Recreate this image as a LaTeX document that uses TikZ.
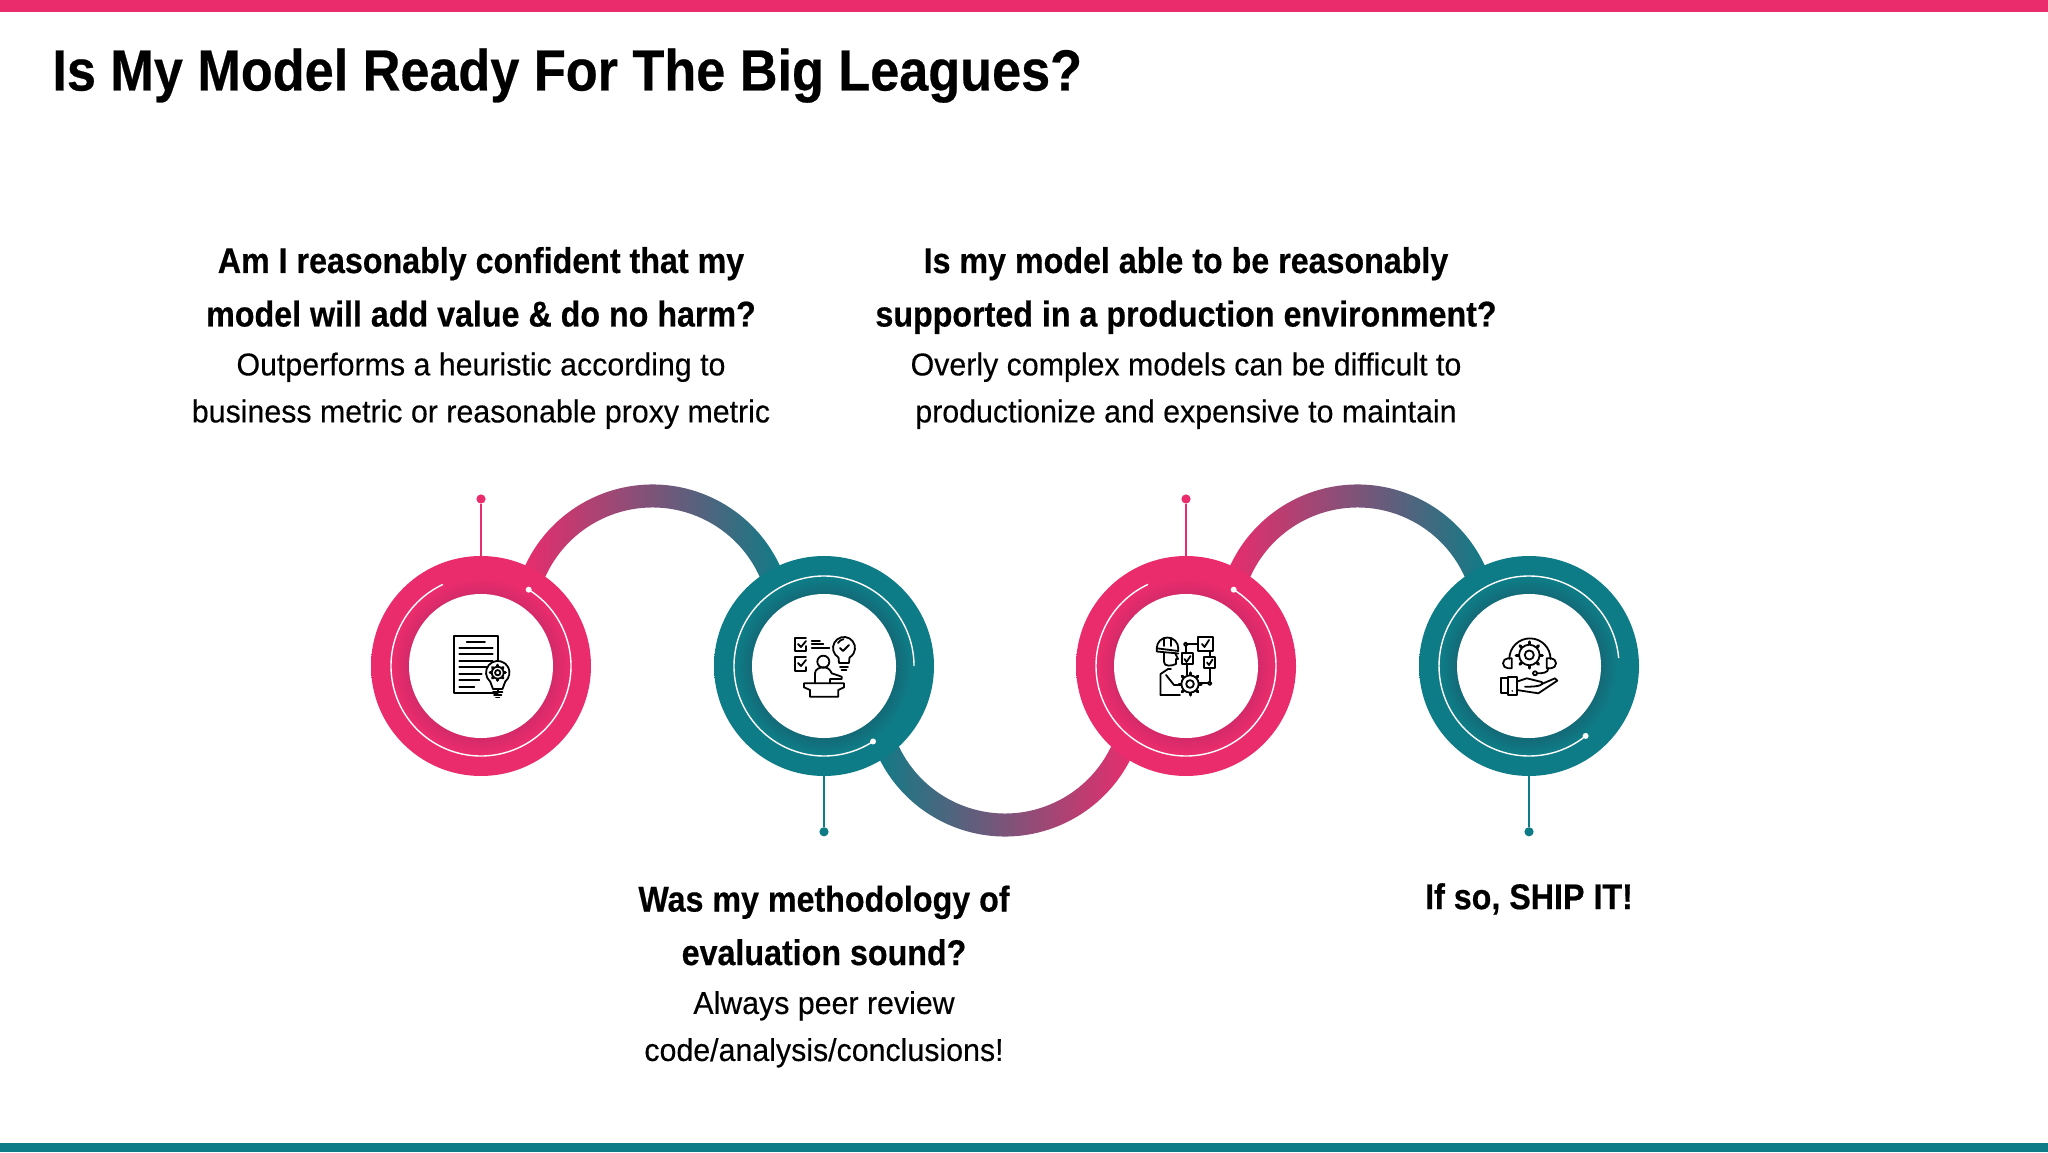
\documentclass[tikz,border=0pt]{standalone}
\usepackage{fontspec}
\setmainfont{Liberation Sans}[
  UprightFeatures={FakeStretch=0.96,FakeBold=0.3},
  BoldFeatures={FakeStretch=0.9,FakeBold=0.45}]
\usetikzlibrary{positioning, calc, backgrounds}
\definecolor{rose}{HTML}{EA2C6C}
\definecolor{rosedark}{HTML}{D42A69}
\definecolor{petrol}{HTML}{0E7C86}
\definecolor{petroldark}{HTML}{136A77}
\pgfdeclareradialshading{roseband}{\pgfpointorigin}{color(0bp)=(rosedark); color(16.4bp)=(rosedark); color(20bp)=(rose); color(50bp)=(rose)}
\pgfdeclareradialshading{petrolband}{\pgfpointorigin}{color(0bp)=(petroldark); color(16.4bp)=(petroldark); color(20bp)=(petrol); color(50bp)=(petrol)}
\newcommand{\titlefont}{\bfseries\fontsize{29}{32}\selectfont}
\newcommand{\headfont}{\bfseries\fontsize{17.9}{26.75}\selectfont}
\newcommand{\bodyfont}{\fontsize{15.8}{23.5}\selectfont}
\tikzset{
  ring/.style={
    circle,
    inner sep=0pt,
    outer sep=0pt,
    minimum size=110pt
  },
  rosering/.style={ring, shading=roseband},
  petrolring/.style={ring, shading=petrolband},
  hole/.style={
    circle,
    inner sep=0pt,
    outer sep=0pt,
    minimum size=72pt,
    fill=white
  },
  tip/.style={
    circle,
    inner sep=0pt,
    outer sep=0pt,
    minimum size=4.6pt
  },
  heading/.style={inner sep=0pt, outer sep=0pt, align=center, text depth=5pt, font=\headfont},
  bodytext/.style={inner sep=0pt, outer sep=0pt, align=center, text depth=5pt, font=\bodyfont},
  stem/.style={line width=1pt},
  glow/.style={white, line width=0.7pt},
  glint/.style={circle, fill=white, inner sep=0pt, minimum size=3pt},
  icon/.style={black, line width=0.9pt, line join=round, line cap=round},
  pics/cog/.style={
    code={
      \foreach \a in {0,45,...,315} \draw[icon, line width=1.5pt] (\a:5.2) -- (\a:6.9);
      \draw[icon, fill=white] (0,0) circle (5.4);
      \draw[icon] (0,0) circle (2.4);
    }
  }
}
\begin{document}
\begin{tikzpicture}[x=0.5pt, y=0.5pt]
  \useasboundingbox (0,0) rectangle (2048,1152);
  \fill[rose] (0,1140) rectangle (2048,1152);
  \fill[petrol] (0,0) rectangle (2048,9);
  \node (title) [anchor=base west, inner sep=0pt, font=\titlefont] at (52,1061.5) {Is My Model Ready For The Big Leagues?};

  % the four rings
  \node (ringA) [rosering] at (481,486) {};
  \node (ringB) [petrolring, right=61.5pt of ringA] {};
  \node (ringC) [rosering, right=71pt of ringB] {};
  \node (ringD) [petrolring, right=61.5pt of ringC] {};
  \node (holeA) [hole] at (ringA) {};
  \node (holeB) [hole] at (ringB) {};
  \node (holeC) [hole] at (ringC) {};
  \node (holeD) [hole] at (ringD) {};

  % links between rings
  \begin{pgfonlayer}{background}
    \shade[left color=rose, right color=petrol] ($(ringA)!0.5!(ringB)+(0,41)$) ++(160:140.5) arc[start angle=160, end angle=20, radius=140.5] -- ++(20:-23) arc[start angle=20, end angle=160, radius=117.5] -- cycle;
    \shade[left color=petrol, right color=rose] ($(ringB)!0.5!(ringC)+(0,-30)$) ++(200:140.5) arc[start angle=200, end angle=340, radius=140.5] -- ++(340:-23) arc[start angle=340, end angle=200, radius=117.5] -- cycle;
    \shade[left color=rose, right color=petrol] ($(ringC)!0.5!(ringD)+(0,41)$) ++(160:140.5) arc[start angle=160, end angle=20, radius=140.5] -- ++(20:-23) arc[start angle=20, end angle=160, radius=117.5] -- cycle;
  \end{pgfonlayer}

  % thin white arcs
  \draw[glow] (ringA) ++(58:90) arc[start angle=58, end angle=-245, radius=90];
  \draw[glow] (ringB) ++(-57:90) arc[start angle=-57, end angle=-360, radius=90];
  \draw[glow] (ringC) ++(58:90) arc[start angle=58, end angle=-245, radius=90];
  \draw[glow] (ringD) ++(-51:90) arc[start angle=-51, end angle=-355, radius=90];
  \node (glintA) [glint] at ($(ringA)+(58:90)$) {};
  \node (glintB) [glint] at ($(ringB)+(-57:90)$) {};
  \node (glintC) [glint] at ($(ringC)+(58:90)$) {};
  \node (glintD) [glint] at ($(ringD)+(-51:90)$) {};

  % stems
  \node (tipA) [tip, fill=rose, above=26.2pt of ringA] {};
  \node (tipB) [tip, fill=petrol, below=25.6pt of ringB] {};
  \node (tipC) [tip, fill=rose, above=26.2pt of ringC] {};
  \node (tipD) [tip, fill=petrol, below=25.6pt of ringD] {};
  \draw[stem, rose] (ringA.north) -- (tipA);
  \draw[stem, petrol] (ringB.south) -- (tipB);
  \draw[stem, rose] (ringC.north) -- (tipC);
  \draw[stem, petrol] (ringD.south) -- (tipD);

  % texts
  \node (textA) [bodytext, above=31pt of tipA] {Outperforms a heuristic according to\\business metric or reasonable proxy metric};
  \node (headA) [heading, above=8pt of textA] {Am I reasonably confident that my\\model will add value \& do no harm?};
  \node (textC) [bodytext, above=31pt of tipC] {Overly complex models can be difficult to\\productionize and expensive to maintain};
  \node (headC) [heading, above=8pt of textC] {Is my model able to be reasonably\\supported in a production environment?};
  \node (headB) [heading, below=24.6pt of tipB] {Was my methodology of\\evaluation sound?};
  \node (textB) [bodytext, below=8pt of headB] {Always peer review\\code/analysis/conclusions!};
  \node (headD) [heading, below=23.4pt of tipD] {If so, SHIP IT!};

  % icon: paper and bulb
  \begin{scope}[shift={(ringA)}]
    \draw[icon] (-27,30.3) rectangle (17,-26.7);
    \draw[icon] (-14.3,24.3) -- (4,24.3);
    \foreach \y/\e in {18.3/11.7, 11.7/11.7, 5/11.7, -1.3/9, -7.7/0.7, -14.3/-1.7, -21/-6.7}
      \draw[icon] (-21.7,\y) -- (\e,\y);
    \draw[icon, fill=white] (9.2,-15.6) arc[start angle=230, end angle=-50, radius=11.7] -- (21.5,-23) -- (12,-23) -- cycle;
    \draw[icon] (12,-26) -- (21.5,-26);
    \draw[icon] (13,-29) -- (20.5,-29);
    \draw[icon] (15,-31.5) -- (18.5,-31.5);
    \pic[scale=1.1] at (16.7,-6.7) {cog};
  \end{scope}

  % icon: speaker and checklist
  \begin{scope}[shift={(ringB)}]
    \draw[icon] (-18,27.7) -- (-29,27.7) -- (-29,15.3) -- (-18,15.3) -- (-18,20);
    \draw[icon] (-18,8.7) -- (-29,8.7) -- (-29,-5) -- (-18,-5) -- (-18,-1);
    \draw[icon] (-26,22) -- (-23,19) -- (-18,25);
    \draw[icon] (-26,3) -- (-23,0) -- (-18,6);
    \draw[icon] (-12.3,25.3) -- (-4,25.3);
    \draw[icon] (-12.3,21.7) -- (-0.7,21.7);
    \draw[icon] (-12.3,17.7) -- (5.3,17.7);
    \draw[icon] (14.5,8.5) arc[start angle=240, end angle=-60, radius=11] -- (25,3) -- (15,3) -- cycle;
    \draw[icon] (16,-1) -- (24,-1) (17.5,-4) -- (22.5,-4);
    \draw[icon] (16,18) -- (19,15) -- (25,21);
    \draw[icon] (14,23) arc[start angle=150, end angle=100, radius=8];
    \draw[icon] (-0.7,4.3) circle (6);
    \draw[icon] (-9,-17.3) -- (-9,-7.3) .. controls (-9,-3) and (-4,-1.3) .. (-0.7,-1.3) .. controls (3,-1.3) and (6,-3) .. (7.7,-7.3) -- (17.7,-10.7) -- (17.7,-13) -- (6,-13) -- (6,-17.3);
    \draw[icon] (-20,-17.3) -- (20,-17.3) -- (20,-21.3) -- (14.3,-24) -- (14.3,-30.7) -- (-14,-30.7) -- (-14,-24) -- (-20,-21.3) -- cycle;
  \end{scope}

  % icon: engineer and flow
  \begin{scope}[shift={(ringC)}]
    \draw[icon] (-29.3,17.7) arc[start angle=180, end angle=0, radius=10.8];
    \draw[icon] (-29.3,17.7) -- (-7.7,15) -- (-7.7,17.7) (-29.3,17.7) -- (-29.3,14.5) -- (-7.7,12.5);
    \draw[icon] (-22,28) -- (-22,20) (-15,28) -- (-15,20);
    \draw[icon] (-22,13) -- (-22,4) .. controls (-22,-1) and (-14,0) .. (-10,2) -- (-10,7) -- (-8,7) -- (-11,13);
    \draw[icon] (-25.5,-29) -- (-25.5,-8) -- (-18,-3) -- (-15,-3);
    \draw[icon] (-25.5,-29) -- (-6,-29);
    \draw[icon] (-20,-9) -- (-12,-19) -- (-4,-19);
    \pic[scale=1.6] at (4,-18) {cog};
    \draw[icon] (12.3,28.7) rectangle (27.3,15.3);
    \draw[icon] (-4.3,12.7) rectangle (6.7,1.7);
    \draw[icon] (18,9.3) rectangle (29,-2.3);
    \draw[icon] (16,22) -- (18.5,19) -- (23,26);
    \draw[icon] (-1.5,7) -- (0.5,4) -- (4.5,10);
    \draw[icon] (21,3.5) -- (23,1) -- (26.5,6.5);
    \draw[icon] (-0.3,21.7) circle (1.8);
    \draw[icon] (1.5,21.7) -- (12.3,21.7);
    \draw[icon] (-0.3,19.9) -- (-0.3,12.7);
    \draw[icon] (23.7,15.3) -- (23.7,9.3);
    \draw[icon] (23.7,-2.3) -- (23.7,-15.5);
    \draw[icon] (23.7,-17.3) circle (1.8);
    \draw[icon] (21.9,-17.3) -- (13,-17.3);
    \draw[icon] (1,1.7) -- (1,-9);
  \end{scope}

  % icon: service hand
  \begin{scope}[shift={(ringD)}]
    \draw[icon] (-19.7,7) arc[start angle=180, end angle=0, radius=20.6];
    \pic[scale=1.9] at (0.3,11) {cog};
    \draw[icon] (-17.3,7.7) -- (-17.3,-2.3) -- (-21,-2.3) arc[start angle=270, end angle=90, radius=5] -- cycle;
    \draw[icon] (17.7,7.7) -- (17.7,-2.3) -- (22,-2.3) arc[start angle=-90, end angle=90, radius=5] -- cycle;
    \draw[icon] (19.3,-2.3) .. controls (19,-7) and (14,-7.3) .. (8,-7.3);
    \draw[icon] (6,-7.3) circle (2);
    \draw[icon] (-28.3,-12.3) rectangle (-20.7,-27.3);
    \draw[icon] (-20.7,-10.7) rectangle (-12.3,-29);
    \fill[black] (-16.7,-25) circle (0.9);
    \draw[icon] (-12.3,-15.7) -- (-2.3,-12.3) -- (12.7,-16) .. controls (15,-18) and (12,-21) .. (-4,-20.7);
    \draw[icon] (12.7,-18) -- (26,-12.3) -- (28.3,-14.7) -- (9.3,-27.3) -- (-12.3,-24);
  \end{scope}
\end{tikzpicture}
\end{document}
